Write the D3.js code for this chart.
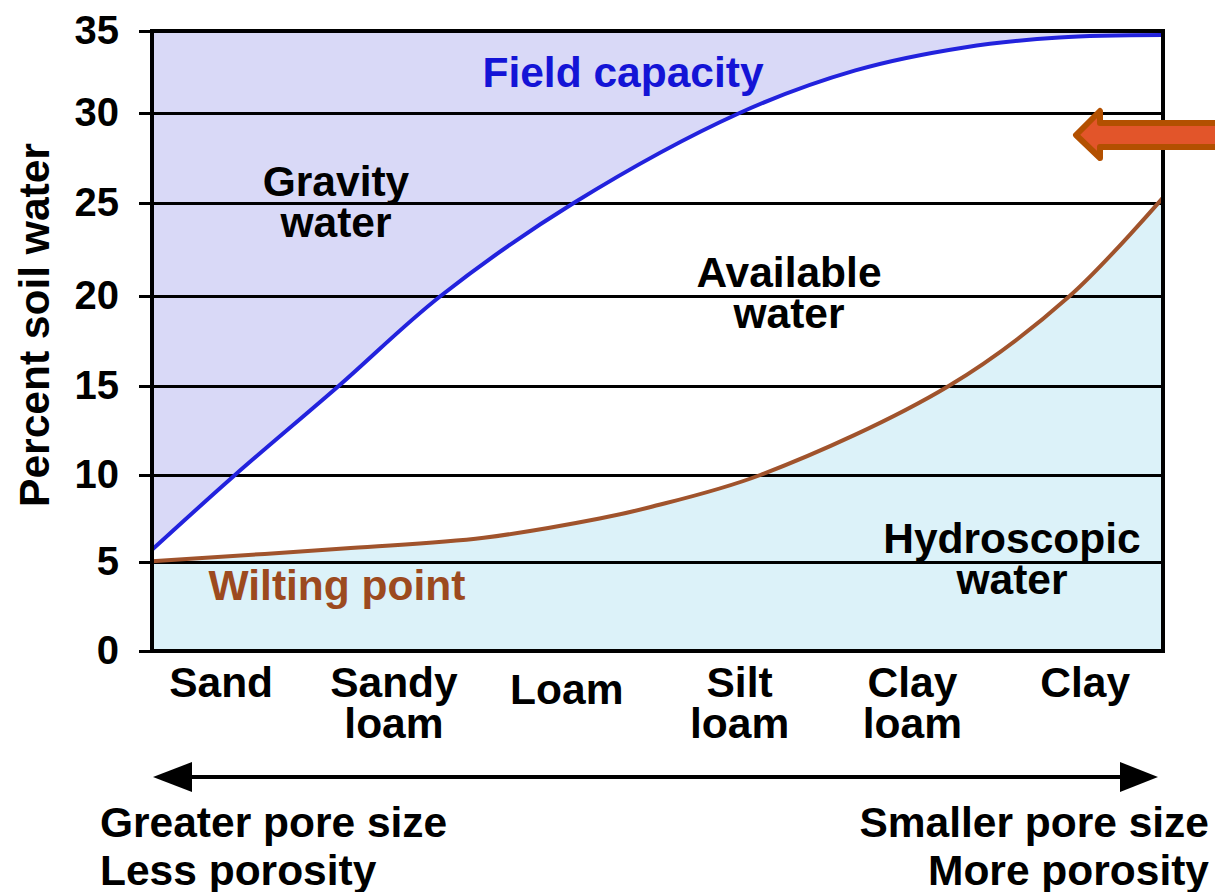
<!DOCTYPE html>
<html>
<head>
<meta charset="utf-8">
<script src="https://cdn.jsdelivr.net/npm/d3@7"></script>
<style>
  body { margin: 0; background: #fff; }
  text { font-family: "Liberation Sans", Arial, sans-serif; font-weight: bold; }
</style>
</head>
<body>
<div id="chart"></div>
<script>
// soil textures along the x axis
const textures = [["Sand"], ["Sandy", "loam"], ["Loam"], ["Silt", "loam"], ["Clay", "loam"], ["Clay"]];
const yTicks = [0, 5, 10, 15, 20, 25, 30, 35];

// curves (x = texture position, y = percent soil water)
const fieldCapX = [-0.40, 0.08, 0.68, 1.27, 2.04, 3.00, 3.67, 4.30, 4.85, 5.45];
const fieldCapY = [5.7, 10, 15, 20, 25, 30, 32.6, 34.0, 34.6, 34.75];
const wiltX = [-0.40, 0.75, 1.52, 2.19, 2.48, 3.12, 4.21, 4.91, 5.45];
const wiltY = [5.05, 5.8, 6.4, 7.5, 8.15, 10, 15, 20, 25.3];

function init() {
    let w = 1215;
    let h = 892;

    let svg = d3.select("#chart")
        .append("svg")
        .attr("width", w)
        .attr("height", h);

    let x = d3.scaleLinear().domain([-0.4, 5.45]).range([152, 1163]);
    // the original's grid is slightly uneven, so map each tick to where it sits
    let y = d3.scaleLinear().domain(yTicks).range([651, 562, 475, 386, 296, 203, 113, 31]);

    let fc = fieldCapX.map((d, i) => [d, fieldCapY[i]]);
    let wp = wiltX.map((d, i) => [d, wiltY[i]]);
    let curve = d3.curveCatmullRom.alpha(0.5);

    // gravity water (above field capacity)
    svg.append("path")
        .datum(fc)
        .attr("d", d3.area().x(d => x(d[0])).y0(y(35)).y1(d => y(d[1])).curve(curve))
        .attr("fill", "#d9d9f7");

    // hydroscopic water (below wilting point)
    svg.append("path")
        .datum(wp)
        .attr("d", d3.area().x(d => x(d[0])).y0(y(0)).y1(d => y(d[1])).curve(curve))
        .attr("fill", "#dcf2f9");

    // grid lines + ticks
    svg.append("g")
        .attr("transform", "translate(152,0)")
        .call(d3.axisLeft(y).tickValues(yTicks).tickSize(-1011).tickSizeOuter(0).tickFormat(""))
        .call(g => g.select(".domain").remove())
        .call(g => g.selectAll(".tick line").attr("stroke", "#000").attr("stroke-width", 3));

    svg.append("g")
        .attr("transform", "translate(152,0)")
        .call(d3.axisLeft(y).tickValues(yTicks).tickSize(13).tickSizeOuter(0).tickPadding(20))
        .call(g => g.select(".domain").remove())
        .call(g => g.selectAll(".tick line").attr("stroke", "#000").attr("stroke-width", 3))
        .call(g => g.selectAll(".tick text")
            .attr("font-size", 40)
            .attr("font-family", "Liberation Sans, Arial, sans-serif")
            .attr("font-weight", "bold")
            .attr("fill", "#000"));

    // curves
    svg.append("path")
        .datum(wp)
        .attr("d", d3.line().x(d => x(d[0])).y(d => y(d[1])).curve(curve))
        .attr("fill", "none")
        .attr("stroke", "#a0532c")
        .attr("stroke-width", 4);

    svg.append("path")
        .datum(fc)
        .attr("d", d3.line().x(d => x(d[0])).y(d => y(d[1])).curve(curve))
        .attr("fill", "none")
        .attr("stroke", "#2222dd")
        .attr("stroke-width", 4);

    // frame
    svg.append("rect")
        .attr("x", 152).attr("y", 31)
        .attr("width", 1011).attr("height", 620)
        .attr("fill", "none")
        .attr("stroke", "#000")
        .attr("stroke-width", 4);

    // x category labels
    textures.forEach((t, i) => {
        let txt = svg.append("text")
            .attr("text-anchor", "middle")
            .attr("font-size", 42.5)
            .attr("fill", "#000");
        let y0 = t[0] == "Loam" ? 704 : 697;
        t.forEach((line, j) => {
            txt.append("tspan")
                .attr("x", x(i))
                .attr("y", y0 + j * 41)
                .text(line);
        });
    });

    function label(lines, cx, by, color, anchor, lh) {
        let txt = svg.append("text")
            .attr("text-anchor", anchor || "middle")
            .attr("font-size", 42.5)
            .attr("fill", color);
        lines.forEach((line, j) => {
            txt.append("tspan").attr("x", cx).attr("y", by + j * (lh || 41)).text(line);
        });
    }

    label(["Field capacity"], 623, 87, "#1414d6");
    label(["Gravity", "water"], 336, 196, "#000");
    label(["Available", "water"], 789, 287, "#000");
    label(["Hydroscopic", "water"], 1012, 553, "#000");
    label(["Wilting point"], 337, 600, "#9c4a1f");

    // y axis title
    svg.append("text")
        .attr("transform", "translate(49,325) rotate(-90)")
        .attr("text-anchor", "middle")
        .attr("font-size", 42.5)
        .attr("fill", "#000")
        .text("Percent soil water");

    // double arrow under the categories
    svg.append("line")
        .attr("x1", 185).attr("x2", 1125)
        .attr("y1", 777).attr("y2", 777)
        .attr("stroke", "#000")
        .attr("stroke-width", 4);
    svg.append("path")
        .attr("d", "M153,777 L192,762 L192,792 Z")
        .attr("fill", "#000");
    svg.append("path")
        .attr("d", "M1158,777 L1120,762 L1120,792 Z")
        .attr("fill", "#000");

    label(["Greater pore size", "Less porosity"], 100, 837, "#000", "start", 48);
    label(["Smaller pore size", "More porosity"], 1209, 837, "#000", "end", 48);

    // orange pointer arrow
    svg.append("path")
        .attr("d", "M1076,135 L1100,111 L1100,123 L1230,123 L1230,147 L1100,147 L1100,158 Z")
        .attr("fill", "#e2552a")
        .attr("stroke", "#b35000")
        .attr("stroke-width", 6)
        .attr("stroke-linejoin", "round");
}

window.onload = init;
</script>
</body>
</html>
